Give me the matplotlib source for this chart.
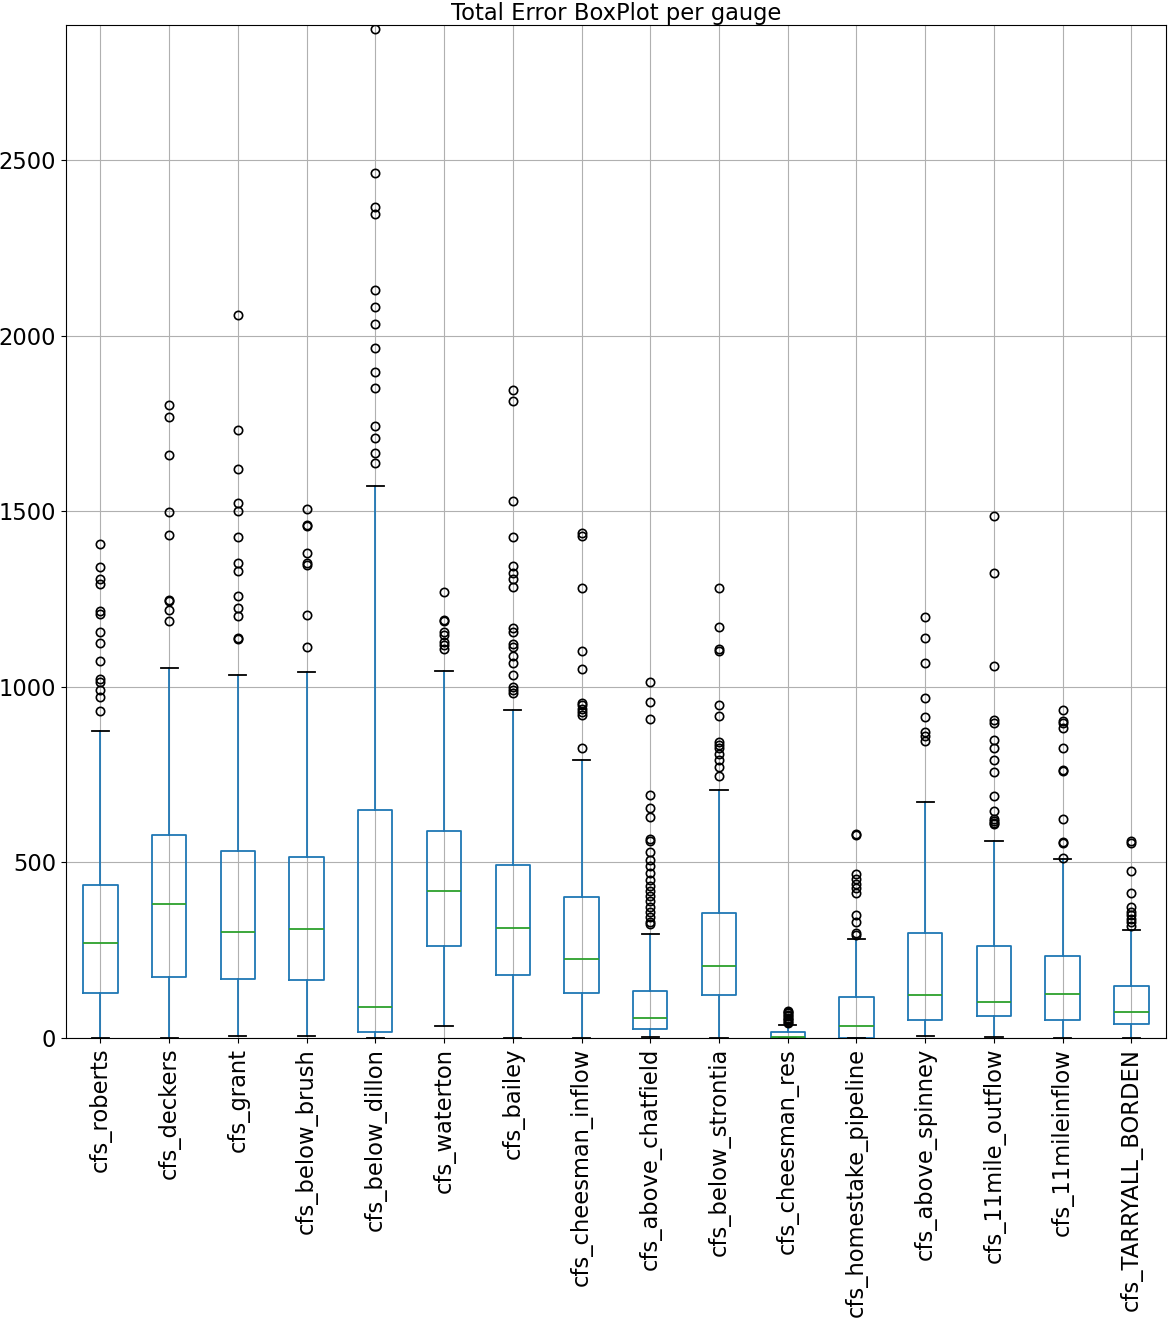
import matplotlib
matplotlib.use("Agg")
import matplotlib.pyplot as plt

# gauge names (x tick labels)
gauges = ["cfs_roberts", "cfs_deckers", "cfs_grant", "cfs_below_brush",
          "cfs_below_dillon", "cfs_waterton", "cfs_bailey", "cfs_cheesman_inflow",
          "cfs_above_chatfield", "cfs_below_strontia", "cfs_cheesman_res",
          "cfs_homestake_pipeline", "cfs_above_spinney", "cfs_11mile_outflow",
          "cfs_11mileinflow", "cfs_TARRYALL_BORDEN"]

# box statistics
whis_lo = [0, 0, 6, 6, 0, 34, 0, 0, 3, 0, 0, 0, 5, 2, 0, 0]
q1 = [128, 174, 168, 166, 17, 262, 180, 129, 25, 123, 0, 0, 50, 64, 50, 40]
median = [270, 382, 302, 311, 88, 419, 313, 226, 58, 205, 4, 35, 123, 102, 126, 73]
q3 = [437, 578, 532, 516, 649, 590, 492, 402, 135, 357, 16, 117, 299, 263, 234, 149]
whis_hi = [873, 1053, 1035, 1041, 1571, 1045, 934, 793, 296, 707, 38, 282, 673, 562, 511, 309]

fliers = [
    [1406, 1341, 1306, 1292, 1215, 1208, 1156, 1126, 1073, 1021, 1014, 990, 970, 930],
    [1801, 1769, 1659, 1497, 1433, 1247, 1244, 1220, 1188],
    [2059, 1732, 1620, 1524, 1500, 1427, 1353, 1329, 1258, 1223, 1202, 1140, 1137],
    [1507, 1460, 1458, 1380, 1353, 1348, 1205, 1112],
    [2874, 2464, 2365, 2346, 2131, 2081, 2034, 1966, 1896, 1852, 1742, 1709,
     1666, 1636],
    [1270, 1190, 1188, 1155, 1148, 1129, 1119, 1107],
    [1845, 1813, 1530, 1427, 1344, 1325, 1306, 1285, 1167, 1155, 1122, 1114,
     1089, 1067, 1034, 999, 991, 983],
    [1438, 1428, 1281, 1102, 1052, 955, 947, 937, 927, 920, 825],
    [1014, 958, 907, 693, 655, 628, 568, 561, 530, 506, 489, 469, 449, 434,
     419, 404, 389, 374, 359, 344, 330, 324],
    [1281, 1169, 1107, 1102, 948, 916, 842, 835, 827, 808, 791, 771, 747],
    [42, 46, 50, 54, 58, 62, 66, 70, 74, 78],
    [581, 578, 466, 452, 439, 426, 412, 349, 331, 299, 294],
    [1199, 1138, 1067, 969, 914, 872, 860, 847],
    [1485, 1323, 1058, 905, 897, 848, 825, 791, 758, 688, 646, 623, 618,
     613, 608],
    [934, 904, 897, 884, 825, 763, 760, 623, 558, 555, 513],
    [561, 555, 476, 414, 372, 359, 349, 339, 329, 319],
]

stats = []
for i, name in enumerate(gauges):
    stats.append({"label": name, "whislo": whis_lo[i], "q1": q1[i],
                  "med": median[i], "q3": q3[i], "whishi": whis_hi[i],
                  "fliers": fliers[i]})

fig = plt.figure(figsize=(11.7, 13.2), dpi=100)
ax = fig.add_axes([0.0564, 0.2136, 0.940, 0.7674])

ax.bxp(stats, widths=0.5,
       boxprops=dict(color="C0", linewidth=1.3),
       whiskerprops=dict(color="C0", linewidth=1.3),
       capprops=dict(color="k", linewidth=1.3),
       medianprops=dict(color="C2", linewidth=1.3),
       flierprops=dict(marker="o", markerfacecolor="none",
                       markeredgecolor="k", markersize=6,
                       markeredgewidth=1.2))

ax.grid(True, color="#b0b0b0", linewidth=0.8)
ax.set_axisbelow(True)
ax.set_ylim(0, 2884)
ax.set_yticks([0, 500, 1000, 1500, 2000, 2500])
ax.tick_params(axis="both", labelsize=16.3)
plt.setp(ax.get_xticklabels(), rotation=90)
ax.set_title("Total Error BoxPlot per gauge", fontsize=16.3, pad=4)

fig.savefig("out.png", dpi=100)
